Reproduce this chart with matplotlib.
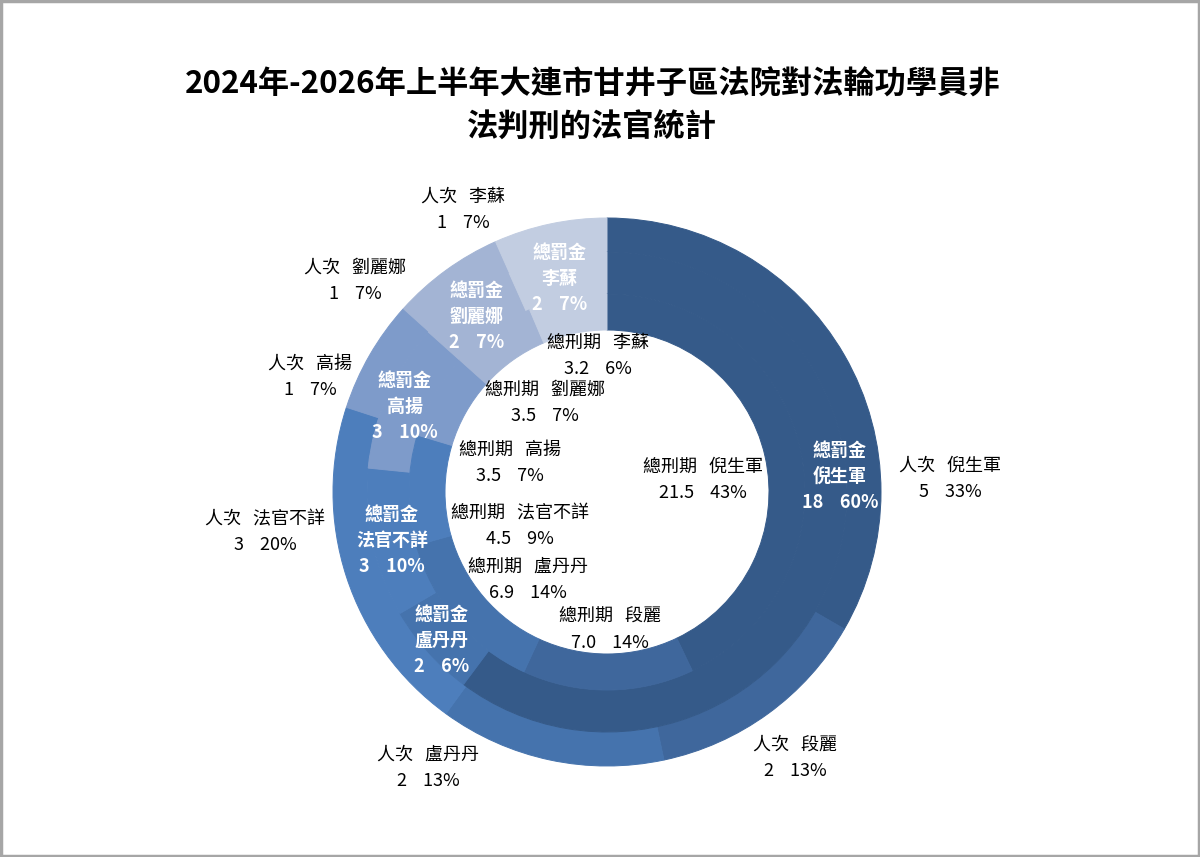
import matplotlib
matplotlib.use('Agg')
import matplotlib.pyplot as plt
from matplotlib.patches import Rectangle

plt.rcParams['font.family'] = ['Noto Sans CJK TC', 'DejaVu Sans']

# data
names = ['倪生軍', '段麗', '盧丹丹', '法官不詳', '高揚', '劉麗娜', '李蘇']
persons = [5, 2, 2, 3, 1, 1, 1]            # 人次
fines = [18, 0, 1.9, 3, 3, 2, 2]           # 總罰金
terms = [21.5, 7.0, 6.9, 4.5, 3.5, 3.5, 3.2]  # 總刑期

colors = ['#355a89', '#3f679c', '#4573ad', '#4d7ebc', '#7e9bca', '#a3b4d4', '#c2cde1']

W, H = 1200, 857
fig = plt.figure(figsize=(12, 8.57), dpi=100)
ax = fig.add_axes([0, 0, 1, 1])

cx, cy = 607, H - 492
r_out, r_b1, r_b2, r_in = 274, 240, 198, 162


def ring(vals, r, width):
    wedges, _ = ax.pie(vals, radius=r, center=(cx, cy), startangle=90, counterclock=False,
                       colors=colors, wedgeprops=dict(width=width))
    # paint the edge in the face colour so the seams between rings stay faint
    for w in wedges:
        w.set_edgecolor(w.get_facecolor())
        w.set_linewidth(0.7)


ring(persons, r_out, r_out - r_b1)
ring(fines, r_b1, r_b1 - r_b2)
ring(terms, r_b2, r_b2 - r_in)

ax.set_xlim(0, W)
ax.set_ylim(0, H)
ax.set_aspect('equal')
ax.axis('off')


def pct(vals, v):
    return round(v / sum(vals) * 100)


# label spots (pixel coords from top-left)
outer_pos = [(950, 466), (795, 745), (428, 755), (265, 519), (310, 364), (355, 268), (463, 197)]
mid_pos = [(840, 450), None, (442, 614), (392, 514), (405, 380), (477, 290), (560, 252)]
inner_pos = [(703, 467), (610, 617), (528, 567), (520, 513), (510, 450), (545, 390), (598, 343)]

fs = 13
lh = 26
gap = '   '
ngap = '    '
for i, n in enumerate(names):
    x, y = outer_pos[i]
    ax.text(x, H - y, '人次' + gap + n, ha='center', va='center', fontsize=fs, color='black')
    ax.text(x, H - y - lh, '%d%s%d%%' % (persons[i], ngap, pct(persons, persons[i])),
            ha='center', va='center', fontsize=fs, color='black')

    if mid_pos[i] is not None:
        x, y = mid_pos[i]
        ax.text(x, H - y, '總罰金', ha='center', va='center', fontsize=fs,
                color='white', fontweight='bold')
        ax.text(x, H - y - lh, n, ha='center', va='center', fontsize=fs,
                color='white', fontweight='bold')
        ax.text(x, H - y - 2 * lh, '%d%s%d%%' % (round(fines[i]), ngap, pct(fines, fines[i])),
                ha='center', va='center', fontsize=fs, color='white', fontweight='bold')

    x, y = inner_pos[i]
    ax.text(x, H - y, '總刑期' + gap + n, ha='center', va='center', fontsize=fs, color='black')
    ax.text(x, H - y - lh, '%.1f%s%d%%' % (terms[i], ngap, pct(terms, terms[i])),
            ha='center', va='center', fontsize=fs, color='black')

ax.text(593, H - 85, '2024年-2026年上半年大連市甘井子區法院對法輪功學員非',
        ha='center', va='center', fontsize=22.5, fontweight='bold', color='black')
ax.text(592, H - 128, '法判刑的法官統計',
        ha='center', va='center', fontsize=22.5, fontweight='bold', color='black')

# thin gray frame round the picture
fig.patches.append(Rectangle((0.001, 0.001), 0.998, 0.998, transform=fig.transFigure,
                             fill=False, edgecolor='#a6a6a6', linewidth=2.5))

fig.savefig('out.png', dpi=100, facecolor='white')
